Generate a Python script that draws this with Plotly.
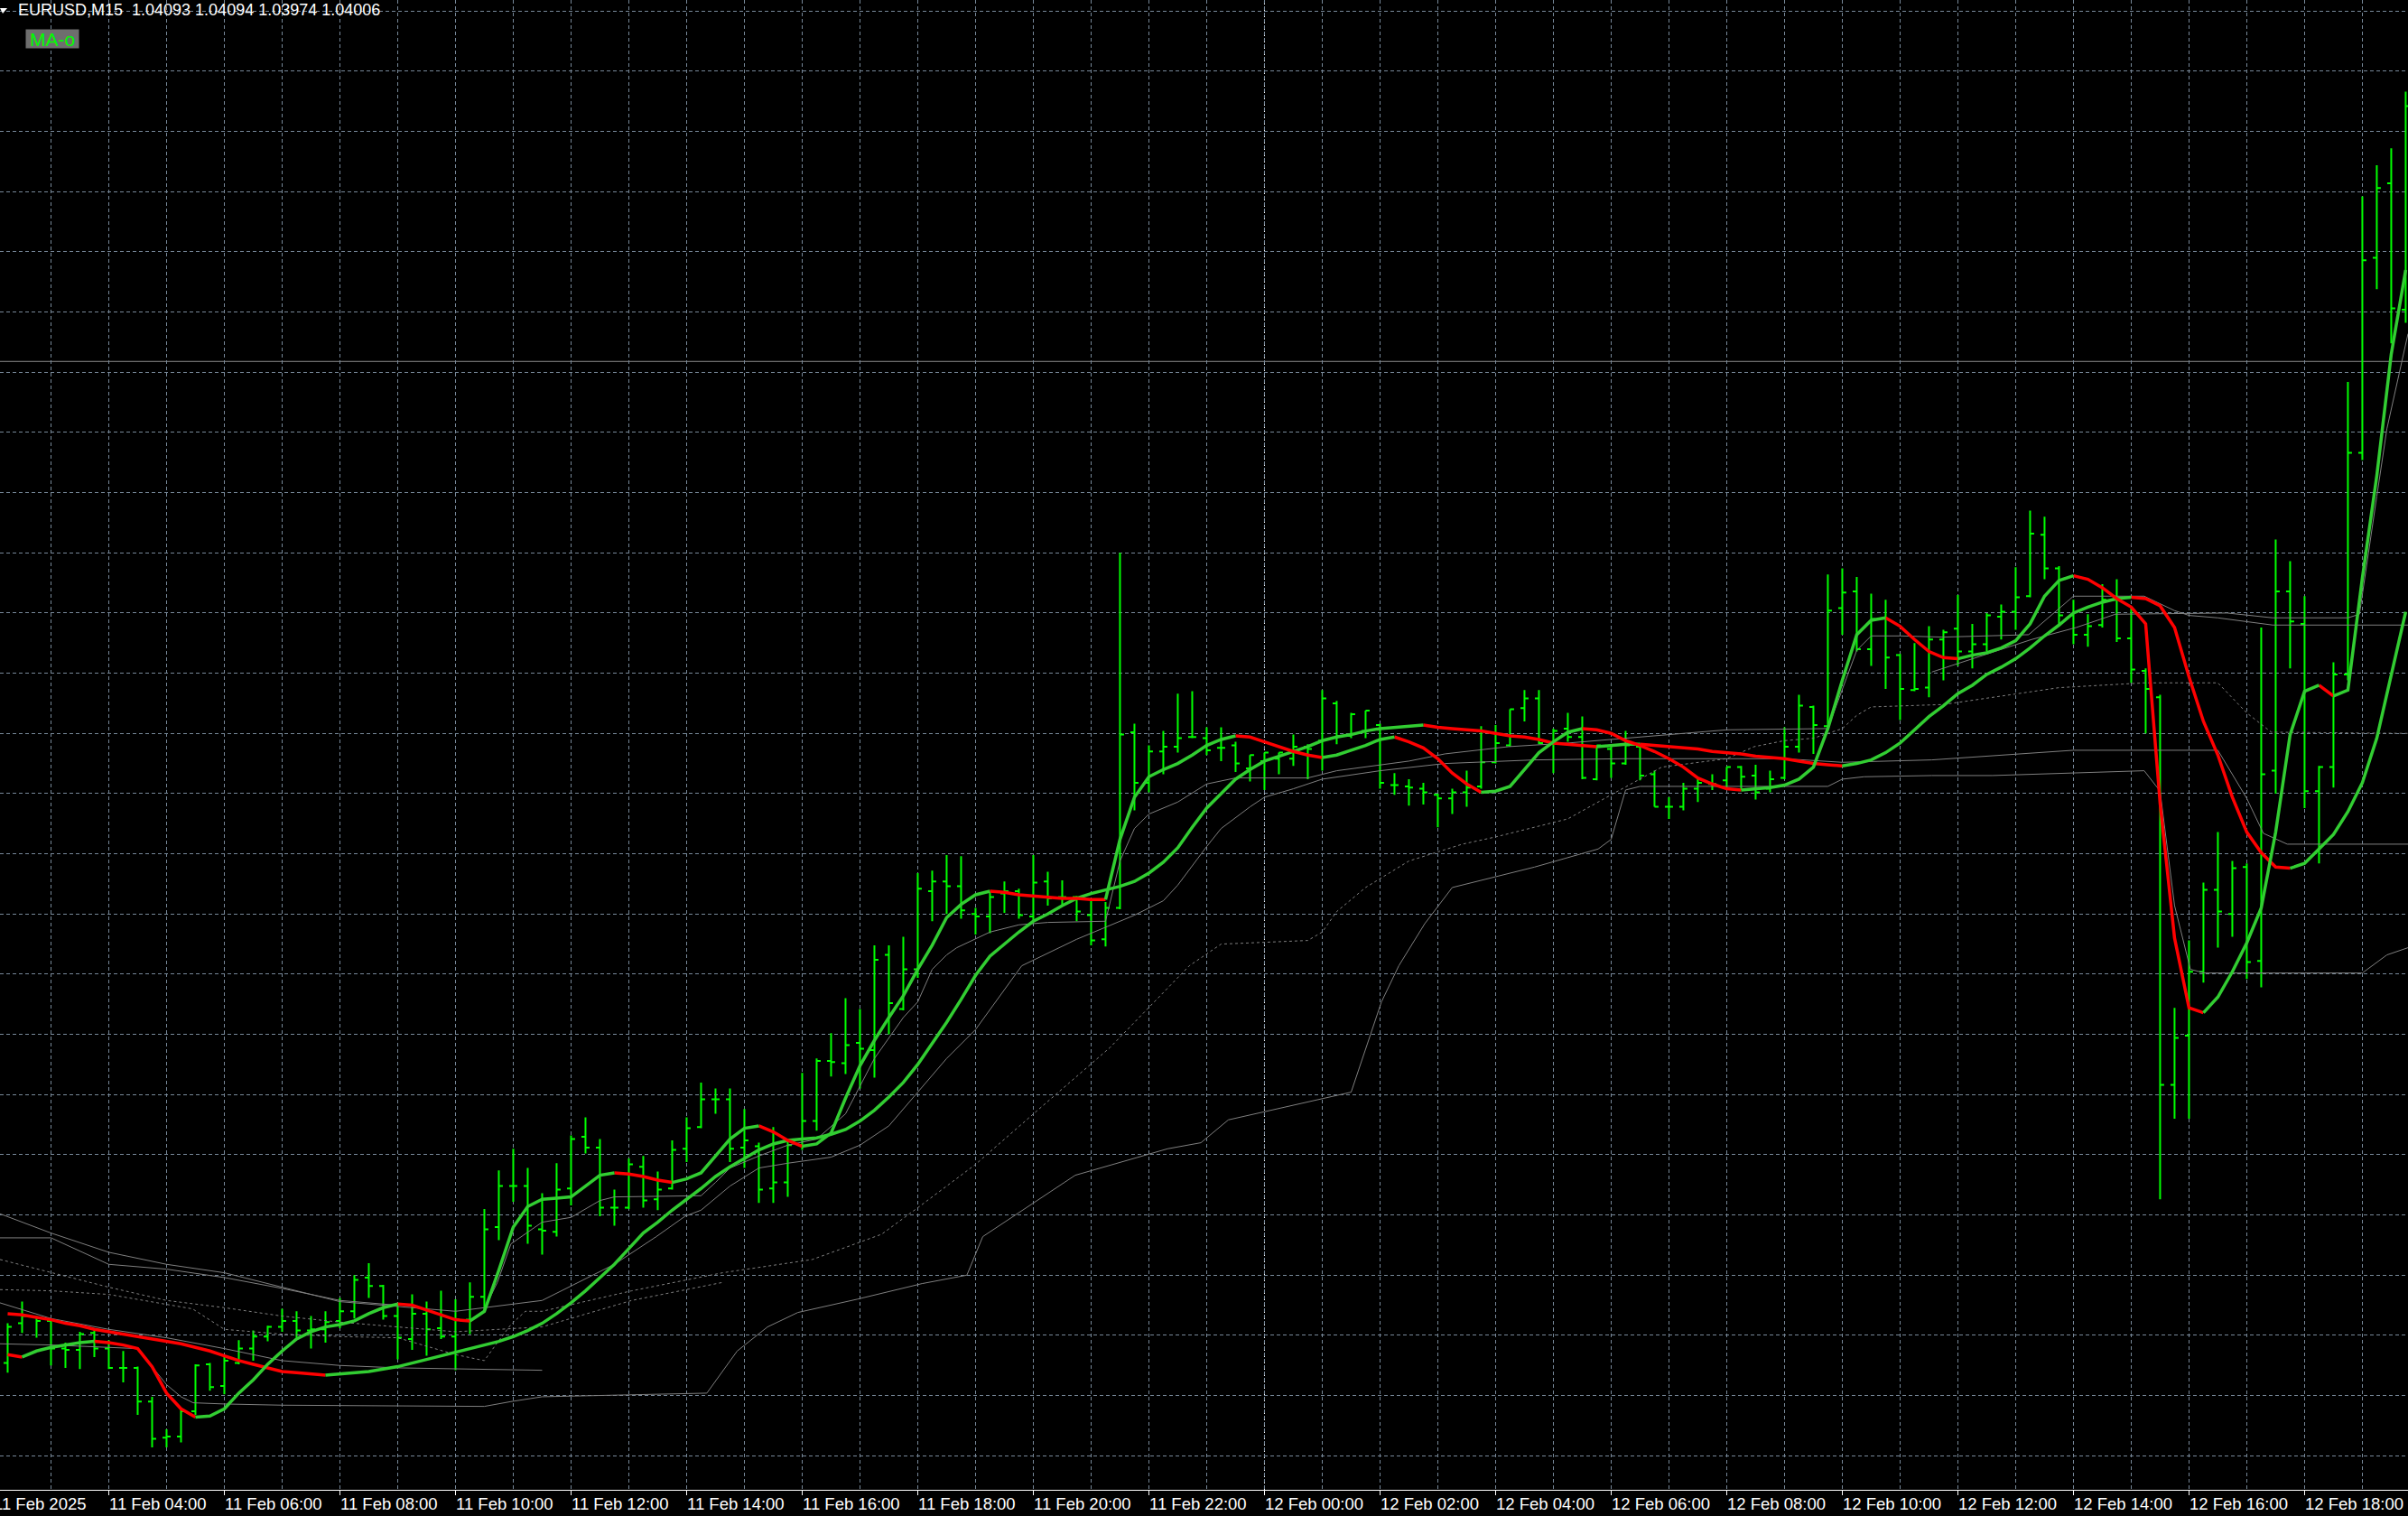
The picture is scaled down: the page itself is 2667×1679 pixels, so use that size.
import plotly.graph_objects as go

# ---------------- data (EURUSD M15) ----------------
bar_index = list(range(-7, 160))  # 0 = 11 Feb 04:00, one step = 15 minutes

opens = [1.03027, 1.03060, 1.03065, 1.03062, 1.03039, 1.03038, 1.03052, 1.03039, 1.03023, 1.03023,
         1.02995, 1.02965, 1.02966, 1.02987, 1.03026, 1.03008, 1.03027, 1.03039, 1.03049, 1.03057,
         1.03062, 1.03054, 1.03055, 1.03062, 1.03070, 1.03098, 1.03091, 1.03066, 1.03047, 1.03068,
         1.03056, 1.03049, 1.03063, 1.03082, 1.03140, 1.03174, 1.03174, 1.03138, 1.03136, 1.03172,
         1.03215, 1.03206, 1.03156, 1.03156, 1.03190, 1.03163, 1.03172, 1.03205, 1.03223, 1.03246,
         1.03246, 1.03206, 1.03207, 1.03172, 1.03177, 1.03208, 1.03228, 1.03278, 1.03276, 1.03293,
         1.03287, 1.03366, 1.03321, 1.03354, 1.03419, 1.03427, 1.03423, 1.03400, 1.03398, 1.03417,
         1.03419, 1.03398, 1.03427, 1.03414, 1.03414, 1.03399, 1.03379, 1.03405, 1.03551, 1.03509,
         1.03535, 1.03539, 1.03547, 1.03546, 1.03538, 1.03540, 1.03521, 1.03527, 1.03529, 1.03529,
         1.03539, 1.03544, 1.03575, 1.03548, 1.03552, 1.03557, 1.03507, 1.03506, 1.03504, 1.03499,
         1.03496, 1.03501, 1.03506, 1.03526, 1.03540, 1.03571, 1.03579, 1.03542, 1.03554, 1.03547,
         1.03512, 1.03537, 1.03525, 1.03539, 1.03516, 1.03489, 1.03489, 1.03504, 1.03508, 1.03511,
         1.03522, 1.03515, 1.03504, 1.03513, 1.03539, 1.03572, 1.03556, 1.03654, 1.03668, 1.03620,
         1.03646, 1.03615, 1.03586, 1.03588, 1.03628, 1.03637, 1.03618, 1.03624, 1.03647, 1.03651,
         1.03664, 1.03715, 1.03687, 1.03648, 1.03632, 1.03640, 1.03661, 1.03629, 1.03602, 1.03580,
         1.03258, 1.03299, 1.03352, 1.03420, 1.03400, 1.03439, 1.03361, 1.03519, 1.03668, 1.03641,
         1.03502, 1.03522, 1.03599, 1.03783, 1.03945, 1.04007, 1.03902]
highs = [1.03060, 1.03078, 1.03066, 1.03063, 1.03044, 1.03053, 1.03055, 1.03046, 1.03037, 1.03024,
         1.02999, 1.02972, 1.02989, 1.03026, 1.03027, 1.03033, 1.03046, 1.03054, 1.03058, 1.03072,
         1.03070, 1.03066, 1.03070, 1.03081, 1.03100, 1.03110, 1.03092, 1.03077, 1.03084, 1.03078,
         1.03087, 1.03080, 1.03094, 1.03155, 1.03187, 1.03205, 1.03189, 1.03168, 1.03193, 1.03216,
         1.03231, 1.03213, 1.03171, 1.03197, 1.03199, 1.03186, 1.03212, 1.03231, 1.03260, 1.03255,
         1.03255, 1.03238, 1.03210, 1.03223, 1.03213, 1.03268, 1.03280, 1.03301, 1.03330, 1.03321,
         1.03374, 1.03374, 1.03381, 1.03434, 1.03436, 1.03449, 1.03448, 1.03405, 1.03418, 1.03427,
         1.03421, 1.03449, 1.03435, 1.03428, 1.03415, 1.03411, 1.03410, 1.03700, 1.03558, 1.03540,
         1.03552, 1.03583, 1.03585, 1.03555, 1.03555, 1.03543, 1.03532, 1.03534, 1.03534, 1.03549,
         1.03541, 1.03586, 1.03577, 1.03567, 1.03569, 1.03558, 1.03517, 1.03512, 1.03509, 1.03500,
         1.03504, 1.03519, 1.03556, 1.03557, 1.03570, 1.03586, 1.03586, 1.03554, 1.03567, 1.03564,
         1.03540, 1.03540, 1.03552, 1.03540, 1.03519, 1.03497, 1.03509, 1.03513, 1.03516, 1.03522,
         1.03523, 1.03524, 1.03519, 1.03555, 1.03582, 1.03573, 1.03682, 1.03687, 1.03680, 1.03666,
         1.03661, 1.03616, 1.03625, 1.03639, 1.03636, 1.03665, 1.03641, 1.03650, 1.03657, 1.03688,
         1.03735, 1.03730, 1.03689, 1.03661, 1.03649, 1.03674, 1.03678, 1.03654, 1.03604, 1.03582,
         1.03322, 1.03378, 1.03426, 1.03468, 1.03444, 1.03442, 1.03638, 1.03711, 1.03693, 1.03664,
         1.03523, 1.03609, 1.03842, 1.03996, 1.04022, 1.04036, 1.04083]
lows = [1.03019, 1.03052, 1.03048, 1.03025, 1.03023, 1.03022, 1.03032, 1.03022, 1.03011, 1.02984,
        1.02957, 1.02957, 1.02961, 1.02984, 1.03004, 1.03001, 1.03026, 1.03029, 1.03045, 1.03053,
        1.03048, 1.03039, 1.03044, 1.03056, 1.03064, 1.03081, 1.03063, 1.03030, 1.03038, 1.03033,
        1.03047, 1.03021, 1.03051, 1.03070, 1.03129, 1.03161, 1.03126, 1.03117, 1.03132, 1.03158,
        1.03201, 1.03149, 1.03141, 1.03155, 1.03156, 1.03154, 1.03171, 1.03194, 1.03222, 1.03234,
        1.03194, 1.03189, 1.03160, 1.03160, 1.03165, 1.03204, 1.03220, 1.03265, 1.03267, 1.03255,
        1.03264, 1.03300, 1.03320, 1.03347, 1.03394, 1.03400, 1.03396, 1.03383, 1.03384, 1.03401,
        1.03396, 1.03394, 1.03407, 1.03407, 1.03394, 1.03374, 1.03373, 1.03404, 1.03486, 1.03501,
        1.03516, 1.03534, 1.03546, 1.03532, 1.03527, 1.03518, 1.03510, 1.03503, 1.03516, 1.03523,
        1.03512, 1.03519, 1.03541, 1.03546, 1.03546, 1.03504, 1.03499, 1.03490, 1.03491, 1.03472,
        1.03483, 1.03489, 1.03504, 1.03525, 1.03539, 1.03560, 1.03541, 1.03517, 1.03543, 1.03512,
        1.03511, 1.03513, 1.03524, 1.03511, 1.03489, 1.03479, 1.03486, 1.03493, 1.03503, 1.03504,
        1.03503, 1.03495, 1.03501, 1.03512, 1.03534, 1.03533, 1.03554, 1.03632, 1.03618, 1.03606,
        1.03587, 1.03561, 1.03585, 1.03580, 1.03594, 1.03606, 1.03604, 1.03618, 1.03628, 1.03636,
        1.03663, 1.03678, 1.03641, 1.03624, 1.03622, 1.03638, 1.03626, 1.03592, 1.03550, 1.03163,
        1.03230, 1.03230, 1.03343, 1.03372, 1.03381, 1.03346, 1.03339, 1.03500, 1.03604, 1.03488,
        1.03442, 1.03505, 1.03594, 1.03777, 1.03919, 1.03874, 1.03891]
closes = [1.03057, 1.03066, 1.03062, 1.03039, 1.03038, 1.03051, 1.03039, 1.03023, 1.03023, 1.02995,
          1.02964, 1.02966, 1.02987, 1.03025, 1.03007, 1.03029, 1.03039, 1.03049, 1.03057, 1.03062,
          1.03054, 1.03055, 1.03061, 1.03070, 1.03096, 1.03091, 1.03066, 1.03048, 1.03068, 1.03055,
          1.03049, 1.03063, 1.03082, 1.03138, 1.03174, 1.03174, 1.03141, 1.03137, 1.03171, 1.03213,
          1.03206, 1.03156, 1.03156, 1.03192, 1.03162, 1.03171, 1.03204, 1.03222, 1.03246, 1.03246,
          1.03205, 1.03212, 1.03171, 1.03177, 1.03208, 1.03228, 1.03278, 1.03277, 1.03291, 1.03288,
          1.03362, 1.03326, 1.03354, 1.03421, 1.03427, 1.03423, 1.03403, 1.03398, 1.03414, 1.03419,
          1.03399, 1.03426, 1.03413, 1.03414, 1.03402, 1.03378, 1.03405, 1.03549, 1.03509, 1.03535,
          1.03539, 1.03546, 1.03547, 1.03536, 1.03538, 1.03525, 1.03532, 1.03534, 1.03534, 1.03539,
          1.03537, 1.03579, 1.03548, 1.03566, 1.03569, 1.03509, 1.03507, 1.03505, 1.03501, 1.03496,
          1.03501, 1.03505, 1.03526, 1.03542, 1.03570, 1.03579, 1.03542, 1.03552, 1.03547, 1.03513,
          1.03540, 1.03525, 1.03540, 1.03515, 1.03489, 1.03489, 1.03504, 1.03509, 1.03508, 1.03522,
          1.03514, 1.03501, 1.03512, 1.03539, 1.03573, 1.03557, 1.03652, 1.03667, 1.03620, 1.03645,
          1.03613, 1.03587, 1.03587, 1.03628, 1.03634, 1.03618, 1.03624, 1.03648, 1.03651, 1.03663,
          1.03716, 1.03687, 1.03648, 1.03632, 1.03639, 1.03661, 1.03629, 1.03603, 1.03587, 1.03258,
          1.03297, 1.03352, 1.03420, 1.03402, 1.03438, 1.03360, 1.03516, 1.03668, 1.03643, 1.03502,
          1.03522, 1.03599, 1.03783, 1.03943, 1.04003, 1.03903, 1.04071]

# "MA-o" fast line (value per bar)
ma_fast = [1.03034, 1.03032, 1.03037, 1.03040, 1.03042, 1.03044, 1.03045, 1.03044, 1.03042, 1.03039,
           1.03024, 1.03002, 1.02989, 1.02982, 1.02983, 1.02989, 1.03002, 1.03013, 1.03026, 1.03037,
           1.03047, 1.03053, 1.03057, 1.03059, 1.03062, 1.03068, 1.03073, 1.03076, 1.03075, 1.03071,
           1.03067, 1.03063, 1.03062, 1.03070, 1.03104, 1.03140, 1.03157, 1.03163, 1.03164, 1.03165,
           1.03174, 1.03183, 1.03185, 1.03184, 1.03182, 1.03179, 1.03177, 1.03180, 1.03185, 1.03199,
           1.03213, 1.03222, 1.03224, 1.03219, 1.03212, 1.03207, 1.03209, 1.03218, 1.03247, 1.03274,
           1.03295, 1.03314, 1.03332, 1.03354, 1.03374, 1.03397, 1.03408, 1.03416, 1.03419, 1.03418,
           1.03416, 1.03415, 1.03414, 1.03413, 1.03413, 1.03412, 1.03412, 1.03462, 1.03497, 1.03514,
           1.03520, 1.03525, 1.03532, 1.03540, 1.03545, 1.03548, 1.03547, 1.03543, 1.03539, 1.03535,
           1.03532, 1.03530, 1.03532, 1.03536, 1.03540, 1.03545, 1.03547, 1.03543, 1.03538, 1.03529,
           1.03517, 1.03508, 1.03501, 1.03502, 1.03506, 1.03520, 1.03534, 1.03543, 1.03551, 1.03554,
           1.03553, 1.03550, 1.03544, 1.03540, 1.03535, 1.03529, 1.03522, 1.03513, 1.03508, 1.03504,
           1.03503, 1.03504, 1.03505, 1.03507, 1.03512, 1.03522, 1.03554, 1.03594, 1.03632, 1.03644,
           1.03646, 1.03639, 1.03628, 1.03618, 1.03613, 1.03612, 1.03615, 1.03617, 1.03621, 1.03627,
           1.03641, 1.03664, 1.03677, 1.03681, 1.03678, 1.03671, 1.03662, 1.03655, 1.03641, 1.03492,
           1.03380, 1.03322, 1.03318, 1.03331, 1.03352, 1.03376, 1.03405, 1.03468, 1.03549, 1.03585,
           1.03590, 1.03581, 1.03586, 1.03679, 1.03764, 1.03865, 1.03935]
# "MA-o" slow line (value per bar)
ma_slow = [1.03068, 1.03067, 1.03065, 1.03063, 1.03060, 1.03058, 1.03055, 1.03053, 1.03051, 1.03049,
           1.03047, 1.03045, 1.03043, 1.03040, 1.03037, 1.03033, 1.03029, 1.03026, 1.03023, 1.03020,
           1.03019, 1.03018, 1.03017, 1.03018, 1.03019, 1.03020, 1.03022, 1.03024, 1.03027, 1.03030,
           1.03033, 1.03036, 1.03039, 1.03042, 1.03045, 1.03049, 1.03054, 1.03060, 1.03068, 1.03077,
           1.03087, 1.03098, 1.03109, 1.03122, 1.03135, 1.03144, 1.03154, 1.03163, 1.03172, 1.03182,
           1.03190, 1.03197, 1.03204, 1.03209, 1.03212, 1.03213, 1.03214, 1.03217, 1.03221, 1.03228,
           1.03237, 1.03248, 1.03260, 1.03275, 1.03292, 1.03310, 1.03329, 1.03349, 1.03365, 1.03375,
           1.03385, 1.03394, 1.03400, 1.03407, 1.03413, 1.03417, 1.03420, 1.03423, 1.03427, 1.03434,
           1.03443, 1.03455, 1.03472, 1.03488, 1.03500, 1.03512, 1.03520, 1.03527, 1.03531, 1.03535,
           1.03539, 1.03544, 1.03547, 1.03549, 1.03552, 1.03554, 1.03555, 1.03556, 1.03557, 1.03555,
           1.03554, 1.03553, 1.03552, 1.03550, 1.03548, 1.03547, 1.03545, 1.03542, 1.03541, 1.03540,
           1.03539, 1.03540, 1.03541, 1.03541, 1.03540, 1.03539, 1.03538, 1.03537, 1.03535, 1.03534,
           1.03533, 1.03531, 1.03530, 1.03529, 1.03527, 1.03525, 1.03524, 1.03523, 1.03525, 1.03528,
           1.03534, 1.03542, 1.03553, 1.03564, 1.03573, 1.03583, 1.03590, 1.03599, 1.03605, 1.03612,
           1.03621, 1.03631, 1.03640, 1.03650, 1.03655, 1.03659, 1.03662, 1.03663, 1.03662, 1.03656,
           1.03638, 1.03597, 1.03560, 1.03532, 1.03497, 1.03468, 1.03451, 1.03439, 1.03438, 1.03442,
           1.03454, 1.03466, 1.03485, 1.03509, 1.03546, 1.03599, 1.03651]

# thin grey reference averages (sampled where they bend): bar position, price
grey_a_bars = [-7.53, -4, 0, 4, 8, 12, 16, 20, 24, 30, 35, 37.9, 39.9, 41, 43, 45, 47, 50, 52, 54, 56,
               58, 60, 63.2, 67, 71, 73, 74, 76, 77, 79, 80, 82, 84, 88, 92.5, 98.7, 105, 112, 116, 120,
               126.2, 136, 146, 148, 149.15, 150.8, 159.16]
grey_a_prices = [1.03151, 1.03135, 1.03119, 1.03109, 1.03102, 1.03090, 1.03078, 1.03074, 1.03070,
                 1.03079, 1.03109, 1.03132, 1.03149, 1.03154, 1.03174, 1.03189, 1.03193, 1.03198,
                 1.03208, 1.03224, 1.03252, 1.03280, 1.03304, 1.03357, 1.03379, 1.03399, 1.03411,
                 1.03424, 1.03456, 1.03471, 1.03489, 1.03497, 1.03504, 1.03512, 1.03519, 1.03525,
                 1.03528, 1.03529, 1.03529, 1.03529, 1.03526, 1.03528, 1.03536, 1.03536, 1.03496,
                 1.03467, 1.03458, 1.03458]
grey_b_bars = [26, 26.9, 27.84, 30, 32, 34, 35, 41, 42, 43, 45, 47, 49, 51, 53, 55, 56, 57, 58, 58.7,
               61, 63, 65, 69, 69.2, 70, 71, 72, 74, 76, 78, 83, 85, 90, 92.5, 96.9, 101, 105, 112,
               119, 121, 122, 124, 127, 132.9, 136, 140.9, 143, 144, 146, 149.8, 159.16]
grey_b_prices = [1.03072, 1.03094, 1.03126, 1.03144, 1.03148, 1.03162, 1.03165, 1.03166, 1.03177,
                 1.03189, 1.03199, 1.03208, 1.03213, 1.03234, 1.03280, 1.03314, 1.03327, 1.03354,
                 1.03366, 1.03372, 1.03385, 1.03391, 1.03393, 1.03394, 1.03404, 1.03444, 1.03471,
                 1.03483, 1.03493, 1.03508, 1.03513, 1.03513, 1.03519, 1.03527, 1.03533, 1.03539,
                 1.03542, 1.03546, 1.03553, 1.03554, 1.03619, 1.03631, 1.03631, 1.03630, 1.03632,
                 1.03664, 1.03664, 1.03652, 1.03648, 1.03646, 1.03640, 1.03640]
grey_c_bars = [126.2, 130, 133.1, 136.2, 138.9, 146.65, 149.8, 155, 155.8, 157, 157.7, 159.16]
grey_c_prices = [1.03601, 1.03616, 1.03628, 1.03638, 1.03649, 1.03650, 1.03646, 1.03646, 1.03649,
                 1.03747, 1.03803, 1.03882]
grey_d_bars = [-7.53, -4, 2, 3, 4, 5, 5.84, 8, 12, 26, 27.84, 30, 41.4, 43.5, 45.6, 47.7, 51.8,
               56.3, 59.4, 60.5, 66.9, 73.3, 75.6, 77.5, 83.8, 86, 88.1, 89.3, 91.1, 93, 98.7,
               103.1, 104, 105, 106, 119, 120, 121.5, 126.2, 130.4, 140.9, 142, 143, 144.1, 145.1,
               156, 157.7, 159.16]
grey_d_prices = [1.03043, 1.03042, 1.03039, 1.03024, 1.03009, 1.02999, 1.02994, 1.02993, 1.02992,
                 1.02991, 1.02995, 1.02999, 1.03002, 1.03037, 1.03057, 1.03069, 1.03080,
                 1.03093, 1.03100, 1.03132, 1.03183, 1.03205, 1.03210, 1.03229, 1.03246, 1.03252,
                 1.03327, 1.03357, 1.03392, 1.03422, 1.03439, 1.03454, 1.03462, 1.03503, 1.03506,
                 1.03506, 1.03512, 1.03514, 1.03515, 1.03515, 1.03519, 1.03502, 1.03407, 1.03354,
                 1.03351, 1.03351, 1.03366, 1.03372]
grey_e_bars = [-7.53, -4, 0, 4, 5.8, 8, 12, 16, 20, 24, 26, 26.9, 27.84, 28.84, 30, 36.2, 42.5, 48.7,
               53.5, 56, 58, 60, 64.3, 69.3, 74.8, 77, 83, 84, 85, 87, 90, 93.7, 96, 101, 104, 107.5,
               112, 113.9, 116, 118, 120, 121, 122, 127, 135, 140.9, 146, 148, 149.7, 159.16]
grey_e_prices = [1.03088, 1.03087, 1.03084, 1.03076, 1.03072, 1.03055, 1.03051, 1.03049, 1.03048,
                 1.03034, 1.03029, 1.03044, 1.03059, 1.03070, 1.03070, 1.03087, 1.03102, 1.03113,
                 1.03134, 1.03156, 1.03174, 1.03192, 1.03237, 1.03289, 1.03357, 1.03375, 1.03378,
                 1.03385, 1.03402, 1.03422, 1.03444, 1.03458, 1.03464, 1.03479, 1.03499, 1.03522,
                 1.03529, 1.03539, 1.03544, 1.03546, 1.03554, 1.03565, 1.03572, 1.03574, 1.03588,
                 1.03592, 1.03592, 1.03567, 1.03551, 1.03550]
grey_f_bars = [-7.53, -4, 0, 4, 8, 12, 16, 20]
grey_f_prices = [1.03131, 1.03131, 1.03109, 1.03105, 1.03098, 1.03089, 1.03079, 1.03075]
grey_g_bars = [-7.53, -4, 0, 4, 8, 12, 16, 20, 24, 30, 36.2, 42.5]
grey_g_prices = [1.03113, 1.03102, 1.03090, 1.03079, 1.03073, 1.03066, 1.03061, 1.03057, 1.03053,
                 1.03057, 1.03079, 1.03094]
grey_h_bars = [-7.53, -4, 0, 4, 8, 12, 16, 20, 30]
grey_h_prices = [1.03077, 1.03064, 1.03055, 1.03048, 1.03039, 1.03029, 1.03025, 1.03023, 1.03021]

tick_bars = [-8, 0, 8, 16, 24, 32, 40, 48, 56, 64, 72, 80, 88, 96, 104, 112, 120, 128, 136, 144, 152]
tick_labels = ["11 Feb 2025", "11 Feb 04:00", "11 Feb 06:00", "11 Feb 08:00", "11 Feb 10:00",
               "11 Feb 12:00", "11 Feb 14:00", "11 Feb 16:00", "11 Feb 18:00", "11 Feb 20:00",
               "11 Feb 22:00", "12 Feb 00:00", "12 Feb 02:00", "12 Feb 04:00", "12 Feb 06:00",
               "12 Feb 08:00", "12 Feb 10:00", "12 Feb 12:00", "12 Feb 14:00", "12 Feb 16:00",
               "12 Feb 18:00"]
day_separator_bar = 80
hline_price = 1.03859
header_text = "EURUSD,M15  1.04093 1.04094 1.03974 1.04006"
indicator_label = "MA-o"

# ---------------- styling ----------------
W, H = 2667, 1679
PLOT_H = 1650
X_RANGE = [-7.53, 159.16]
Y_RANGE = [1.029217, 1.041592]
GRID = "#778899"
UP_COL = "#32CD32"
DN_COL = "#FF0000"
BAR_COL = "#00FF00"
GREY = "#7f7f7f"


def colored_runs(xs, ys):
    """Split a line into runs coloured by slope (up = green, down = red)."""
    runs = []
    prev = UP_COL if ys[1] >= ys[0] else DN_COL
    for i in range(len(xs) - 1):
        d = ys[i + 1] - ys[i]
        c = DN_COL if d < 0 else (UP_COL if d > 0 else prev)
        prev = c
        if runs and runs[-1][0] == c:
            runs[-1][1].append(xs[i + 1])
            runs[-1][2].append(ys[i + 1])
        else:
            runs.append([c, [xs[i], xs[i + 1]], [ys[i], ys[i + 1]]])
    out = {}
    for c, rx, ry in runs:
        ox, oy = out.setdefault(c, ([], []))
        ox.extend(rx + [None])
        oy.extend(ry + [None])
    return out


fig = go.Figure()

greys = [
    (grey_a_bars, grey_a_prices, "solid"),
    (grey_b_bars, grey_b_prices, "solid"),
    (grey_c_bars, grey_c_prices, "solid"),
    (grey_d_bars, grey_d_prices, "solid"),
    (grey_e_bars, grey_e_prices, "3px,3px"),
    (grey_f_bars, grey_f_prices, "solid"),
    (grey_g_bars, grey_g_prices, "3px,3px"),
    (grey_h_bars, grey_h_prices, "solid"),
]
for gx, gy, dash in greys:
    fig.add_trace(go.Scatter(x=gx, y=gy, mode="lines",
                             line=dict(color=GREY, width=1, dash=dash),
                             hoverinfo="skip", showlegend=False))

fig.add_trace(go.Ohlc(
    x=bar_index, open=opens, high=highs, low=lows, close=closes,
    increasing=dict(line=dict(color=BAR_COL, width=2)),
    decreasing=dict(line=dict(color=BAR_COL, width=2)),
    tickwidth=0.28, hoverinfo="skip", showlegend=False))

for series in (ma_slow, ma_fast):
    for col, (xx, yy) in colored_runs(bar_index, series).items():
        fig.add_trace(go.Scatter(x=xx, y=yy, mode="lines",
                                 line=dict(color=col, width=3.5),
                                 hoverinfo="skip", showlegend=False,
                                 connectgaps=False))

shapes = [
    dict(type="line", xref="x", yref="paper", x0=day_separator_bar, x1=day_separator_bar,
         y0=0, y1=1, line=dict(color="#ffffff", width=1, dash="4px,3px"), layer="below"),
    dict(type="line", xref="paper", yref="y", x0=0, x1=1, y0=hline_price, y1=hline_price,
         line=dict(color="#8c8c8c", width=1), layer="below"),
    dict(type="path", xref="paper", yref="paper",
         path="M 0,%f L %f,%f L %f,%f Z" % (1 - 9 / PLOT_H, 8 / W, 1 - 9 / PLOT_H, 3 / W, 1 - 15 / PLOT_H),
         fillcolor="#ffffff", line=dict(width=0)),
]

annotations = []
x_lo, x_hi = X_RANGE
for b, t in zip(tick_bars, tick_labels):
    annotations.append(dict(x=(b - x_lo) / (x_hi - x_lo), y=0, xref="paper", yref="paper", text=t,
                            showarrow=False, xanchor="left", yanchor="middle", yshift=-15.5,
                            xshift=-1,
                            font=dict(family="Liberation Sans", size=18.5, color="#ffffff")))
annotations.append(dict(x=18 / W, y=1, xref="paper", yref="paper", text=header_text,
                        showarrow=False, xanchor="left", yanchor="top", yshift=1,
                        font=dict(family="Liberation Sans", size=18, color="#ffffff")))
annotations.append(dict(x=28 / W, y=1 - 32 / PLOT_H, xref="paper", yref="paper",
                        text=indicator_label, showarrow=False, xanchor="left", yanchor="top",
                        bgcolor="#6e6e6e", borderpad=0, width=58, height=20,
                        font=dict(family="Liberation Sans", size=21, color="#00ff00")))

fig.update_layout(
    width=W, height=H,
    margin=dict(l=0, r=0, t=0, b=H - PLOT_H, pad=0),
    paper_bgcolor="#000000", plot_bgcolor="#000000",
    showlegend=False, shapes=shapes, annotations=annotations,
    xaxis=dict(range=X_RANGE, rangeslider=dict(visible=False), showticklabels=False,
               tick0=0, dtick=8, ticks="outside", ticklen=5, tickcolor="#ffffff",
               showgrid=True, gridcolor=GRID, gridwidth=1, griddash="4px,3px",
               minor=dict(dtick=4, tick0=0, showgrid=True, gridcolor=GRID, gridwidth=1,
                          griddash="4px,3px", ticks=""),
               zeroline=False, showline=True, linecolor="#ffffff", linewidth=1,
               fixedrange=True),
    yaxis=dict(range=Y_RANGE, showticklabels=False, tick0=1.0370, dtick=0.0005,
               showgrid=True, gridcolor=GRID, gridwidth=1, griddash="4px,3px",
               zeroline=False, showline=False, ticks="", fixedrange=True),
)

fig.write_html("out.html", config={"displayModeBar": False},
               post_script="document.body.style.margin='0';document.body.style.background='#000';")
